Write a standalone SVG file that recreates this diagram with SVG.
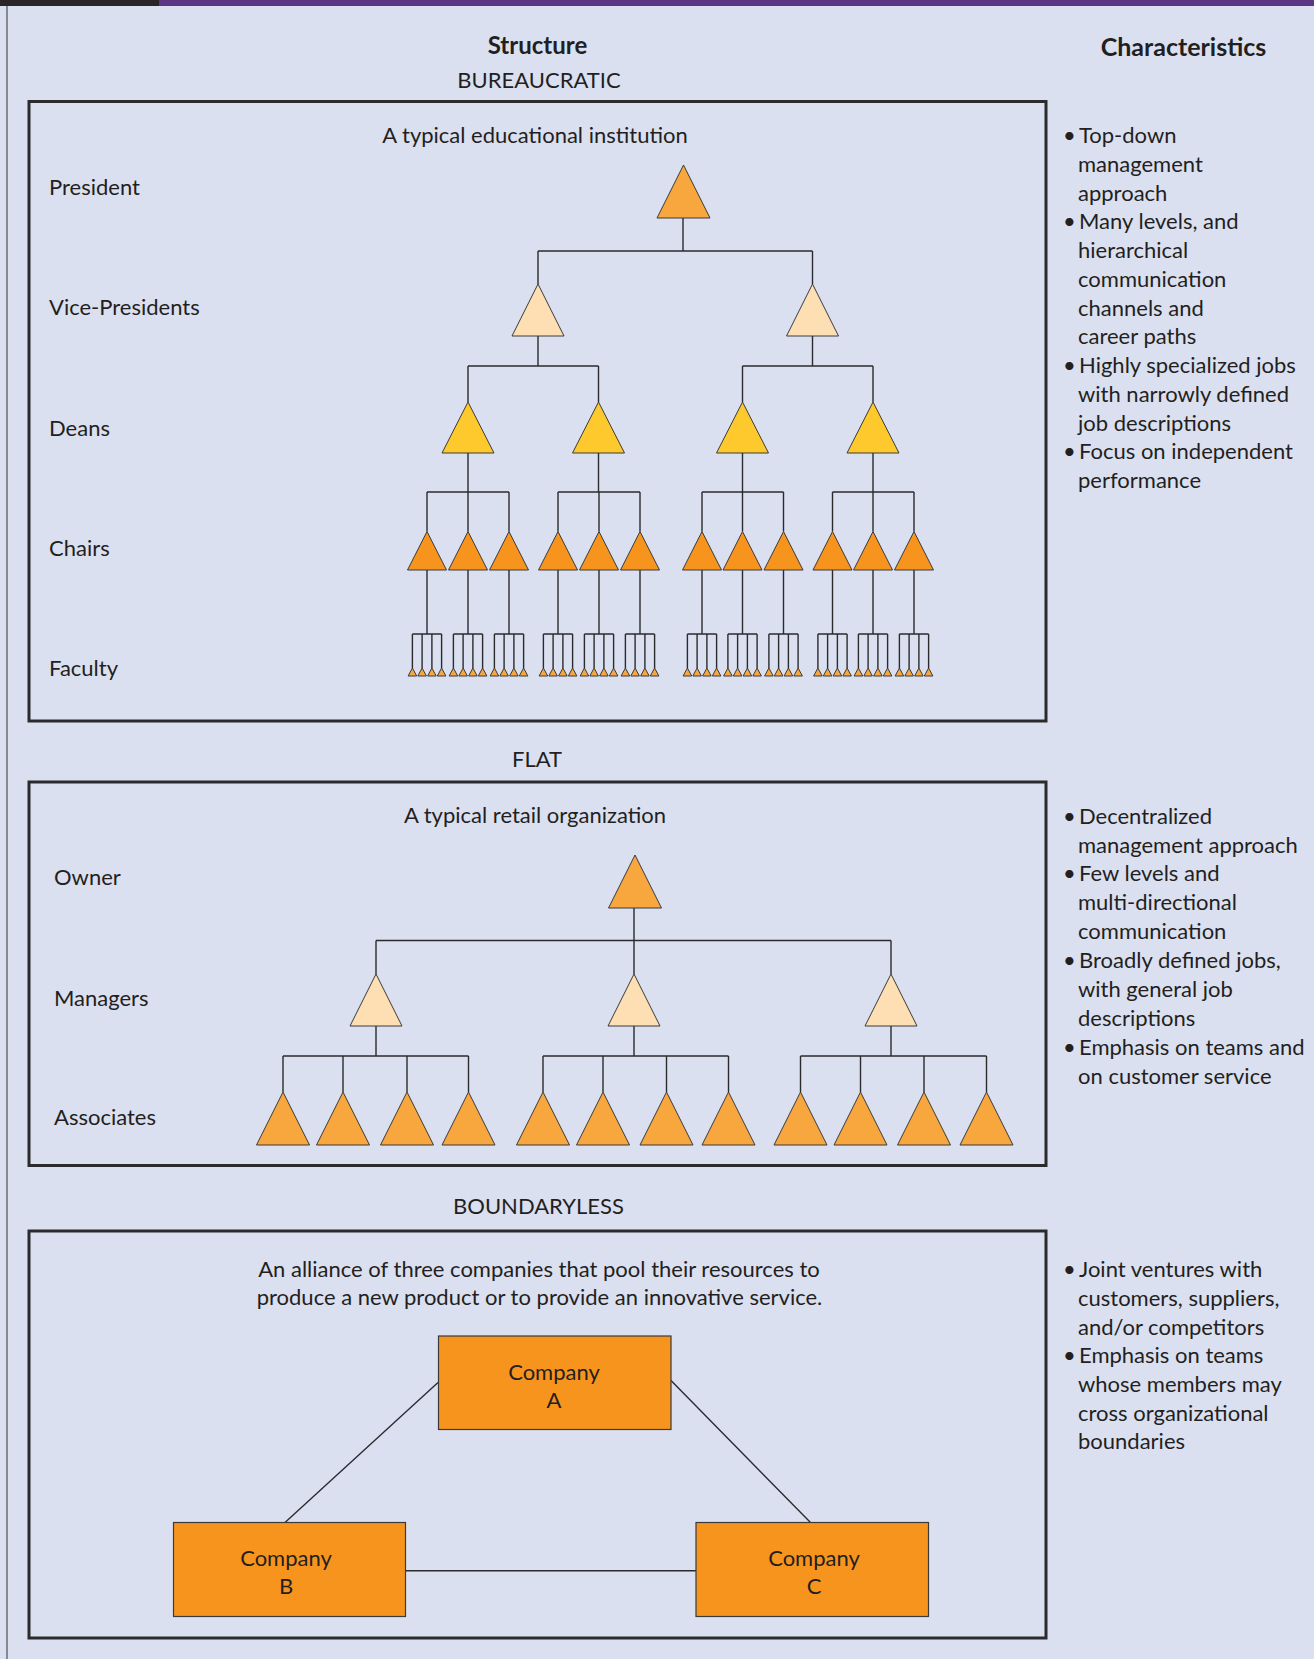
<svg xmlns="http://www.w3.org/2000/svg" xmlns:xlink="http://www.w3.org/1999/xlink" width="1314" height="1659" viewBox="0 0 1314 1659">
<style>
text{font-family:Lato,"Liberation Sans",sans-serif;fill:#231f20;font-size:22px}
.h{font-weight:bold;font-size:24px}
.c{text-anchor:middle}
.box{fill:none;stroke:#2b2b2d;stroke-width:3}
.ln{fill:none;stroke:#2b2b2d;stroke-width:1.4}
.tri{stroke:#3a3a3a;stroke-width:1;stroke-linejoin:miter}
.pres{fill:#f8a63e}
.vp{fill:#fddfb3}
.dean{fill:#fdc92d}
.chair{fill:#f7941e}
.fac{fill:#f8a63e}
.co rect{fill:#f7941e;stroke:#3a3a3a;stroke-width:1.2}
</style>
<defs>
<path id="tL" d="M0,0 L26.5,53 L-26.5,53 Z"/>
<path id="tM" d="M0,0 L26,52 L-26,52 Z"/>
<path id="tD" d="M0,0 L26,51 L-26,51 Z"/>
<path id="tC" d="M0,0 L19.5,38.5 L-19.5,38.5 Z"/>
<g id="f4">
<path d="M-14.6,0 L-10.3,8 L-18.9,8 Z"/>
<path d="M-4.9,0 L-0.6,8 L-9.2,8 Z"/>
<path d="M4.9,0 L9.2,8 L0.6,8 Z"/>
<path d="M14.6,0 L18.9,8 L10.3,8 Z"/>
</g>
</defs>
<rect x="0" y="0" width="1314" height="1659" fill="#dbe0f1"/>
<rect x="0" y="0" width="159" height="6" fill="#2a2628"/>
<rect x="159" y="0" width="1155" height="6" fill="#5c3584"/>
<line x1="7" y1="6" x2="7" y2="1659" stroke="#6b6b70" stroke-width="1.5"/>

<g id="headers">
<text class="h c" x="537.5" y="54">Structure</text>
<text class="h c" x="1183.5" y="56" style="font-size:25px">Characteristics</text>
<text class="c" x="539" y="87.5">BUREAUCRATIC</text>
<text class="c" x="537" y="767">FLAT</text>
<text class="c" x="538.5" y="1214">BOUNDARYLESS</text>
</g>

<g id="frames">
<rect class="box" x="29" y="101.5" width="1017" height="619.5"/>
<rect class="box" x="29" y="782" width="1017" height="383.5"/>
<rect class="box" x="29" y="1231" width="1017" height="407"/>
</g>

<g id="bureaucratic-labels">
<text class="c" x="535" y="143">A typical educational institution</text>
<text x="49" y="195">President</text>
<text x="49" y="315">Vice-Presidents</text>
<text x="49" y="436">Deans</text>
<text x="49" y="555.5">Chairs</text>
<text x="49" y="676">Faculty</text>
</g>

<g id="connectors">
<path class="ln" d="M683,218 V251 M538,251 H812.5 M538,251 V284 M812.5,251 V284
M538,336 V366 M468,366 H598.5 M468,366 V402 M598.5,366 V402
M812.5,336 V366 M742.5,366 H873 M742.5,366 V402 M873,366 V402
M468,453 V492 M427,492 H509 M427,492 V531.5 M468,492 V531.5 M509,492 V531.5
M598.5,453 V492 M558,492 H640 M558,492 V531.5 M599,492 V531.5 M640,492 V531.5
M742.5,453 V492 M702,492 H783.5 M702,492 V531.5 M742.5,492 V531.5 M783.5,492 V531.5
M873,453 V492 M832.5,492 H914 M832.5,492 V531.5 M873,492 V531.5 M914,492 V531.5"/>
<path class="ln" d="M427,570 V634 M412.4,634 H441.6 M412.4,634 V668 M422.1,634 V668 M431.9,634 V668 M441.6,634 V668
M468,570 V634 M453.4,634 H482.6 M453.4,634 V668 M463.1,634 V668 M472.9,634 V668 M482.6,634 V668
M509,570 V634 M494.4,634 H523.6 M494.4,634 V668 M504.1,634 V668 M513.9,634 V668 M523.6,634 V668
M558,570 V634 M543.4,634 H572.6 M543.4,634 V668 M553.1,634 V668 M562.9,634 V668 M572.6,634 V668
M599,570 V634 M584.4,634 H613.6 M584.4,634 V668 M594.1,634 V668 M603.9,634 V668 M613.6,634 V668
M640,570 V634 M625.4,634 H654.6 M625.4,634 V668 M635.1,634 V668 M644.9,634 V668 M654.6,634 V668
M702,570 V634 M687.4,634 H716.6 M687.4,634 V668 M697.1,634 V668 M706.9,634 V668 M716.6,634 V668
M742.5,570 V634 M727.9,634 H757.1 M727.9,634 V668 M737.6,634 V668 M747.4,634 V668 M757.1,634 V668
M783.5,570 V634 M768.9,634 H798.1 M768.9,634 V668 M778.6,634 V668 M788.4,634 V668 M798.1,634 V668
M832.5,570 V634 M817.9,634 H847.1 M817.9,634 V668 M827.6,634 V668 M837.4,634 V668 M847.1,634 V668
M873,570 V634 M858.4,634 H887.6 M858.4,634 V668 M868.1,634 V668 M877.9,634 V668 M887.6,634 V668
M914,570 V634 M899.4,634 H928.6 M899.4,634 V668 M909.1,634 V668 M918.9,634 V668 M928.6,634 V668"/>
<path class="ln" d="M634,907 V940.5 M376,940.5 H891 M376,940.5 V974 M634,940.5 V974 M891,940.5 V974
M376,1026 V1056 M283,1056 H468.5 M283,1056 V1092 M343,1056 V1092 M407,1056 V1092 M468.5,1056 V1092
M634,1026 V1056 M543,1056 H728.5 M543,1056 V1092 M603,1056 V1092 M666.5,1056 V1092 M728.5,1056 V1092
M891,1026 V1056 M800.5,1056 H986.5 M800.5,1056 V1092 M860.5,1056 V1092 M924,1056 V1092 M986.5,1056 V1092"/>
<path class="ln" d="M438,1382.5 L285,1522.5 M671,1380.5 L810.5,1522.5"/>
<path class="ln" d="M405.5,1570.7 H696" stroke-width="2"/>
</g>

<g id="president"><use class="tri pres" href="#tL" x="683.5" y="165"/></g>
<g id="vice-presidents">
<use class="tri vp" href="#tM" x="538" y="284"/>
<use class="tri vp" href="#tM" x="812.5" y="284"/>
</g>
<g id="deans">
<use class="tri dean" href="#tD" x="468" y="402"/>
<use class="tri dean" href="#tD" x="598.5" y="402"/>
<use class="tri dean" href="#tD" x="742.5" y="402"/>
<use class="tri dean" href="#tD" x="873" y="402"/>
</g>
<g id="chairs">
<use class="tri chair" href="#tC" x="427" y="531.5"/>
<use class="tri chair" href="#tC" x="468" y="531.5"/>
<use class="tri chair" href="#tC" x="509" y="531.5"/>
<use class="tri chair" href="#tC" x="558" y="531.5"/>
<use class="tri chair" href="#tC" x="599" y="531.5"/>
<use class="tri chair" href="#tC" x="640" y="531.5"/>
<use class="tri chair" href="#tC" x="702" y="531.5"/>
<use class="tri chair" href="#tC" x="742.5" y="531.5"/>
<use class="tri chair" href="#tC" x="783.5" y="531.5"/>
<use class="tri chair" href="#tC" x="832.5" y="531.5"/>
<use class="tri chair" href="#tC" x="873" y="531.5"/>
<use class="tri chair" href="#tC" x="914" y="531.5"/>
</g>
<g id="faculty">
<use class="tri fac" href="#f4" x="427" y="668"/>
<use class="tri fac" href="#f4" x="468" y="668"/>
<use class="tri fac" href="#f4" x="509" y="668"/>
<use class="tri fac" href="#f4" x="558" y="668"/>
<use class="tri fac" href="#f4" x="599" y="668"/>
<use class="tri fac" href="#f4" x="640" y="668"/>
<use class="tri fac" href="#f4" x="702" y="668"/>
<use class="tri fac" href="#f4" x="742.5" y="668"/>
<use class="tri fac" href="#f4" x="783.5" y="668"/>
<use class="tri fac" href="#f4" x="832.5" y="668"/>
<use class="tri fac" href="#f4" x="873" y="668"/>
<use class="tri fac" href="#f4" x="914" y="668"/>
</g>

<g id="flat-labels">
<text class="c" x="535" y="822.5">A typical retail organization</text>
<text x="54" y="885">Owner</text>
<text x="54" y="1006">Managers</text>
<text x="54" y="1125">Associates</text>
</g>
<g id="owner"><use class="tri pres" href="#tL" x="635" y="855"/></g>
<g id="managers">
<use class="tri vp" href="#tM" x="376" y="974"/>
<use class="tri vp" href="#tM" x="634" y="974"/>
<use class="tri vp" href="#tM" x="891" y="974"/>
</g>
<g id="associates">
<use class="tri pres" href="#tL" x="283" y="1092"/>
<use class="tri pres" href="#tL" x="343" y="1092"/>
<use class="tri pres" href="#tL" x="407" y="1092"/>
<use class="tri pres" href="#tL" x="468.5" y="1092"/>
<use class="tri pres" href="#tL" x="543" y="1092"/>
<use class="tri pres" href="#tL" x="603" y="1092"/>
<use class="tri pres" href="#tL" x="666.5" y="1092"/>
<use class="tri pres" href="#tL" x="728.5" y="1092"/>
<use class="tri pres" href="#tL" x="800.5" y="1092"/>
<use class="tri pres" href="#tL" x="860.5" y="1092"/>
<use class="tri pres" href="#tL" x="924" y="1092"/>
<use class="tri pres" href="#tL" x="986.5" y="1092"/>
</g>

<g id="boundaryless-caption">
<text class="c" x="539" y="1277">An alliance of three companies that pool their resources to</text>
<text class="c" x="539.5" y="1305">produce a new product or to provide an innovative service.</text>
</g>
<g id="company-a" class="co">
<rect x="438.5" y="1336" width="232.5" height="93.5"/>
<text class="c" x="554" y="1380">Company</text>
<text class="c" x="554" y="1408">A</text>
</g>
<g id="company-b" class="co">
<rect x="173.5" y="1522.5" width="232" height="94"/>
<text class="c" x="286" y="1566">Company</text>
<text class="c" x="286" y="1594">B</text>
</g>
<g id="company-c" class="co">
<rect x="696" y="1522.5" width="232.5" height="94"/>
<text class="c" x="814" y="1566">Company</text>
<text class="c" x="814" y="1594">C</text>
</g>

<g id="characteristics-bureaucratic">
<text x="1063" y="143">•</text><text x="1079" y="143">Top-down</text>
<text x="1078" y="172">management</text>
<text x="1078" y="200.5">approach</text>
<text x="1063" y="229">•</text><text x="1079" y="229">Many levels, and</text>
<text x="1078" y="258">hierarchical</text>
<text x="1078" y="287">communication</text>
<text x="1078" y="315.5">channels and</text>
<text x="1078" y="344">career paths</text>
<text x="1063" y="373">•</text><text x="1079" y="373">Highly specialized jobs</text>
<text x="1078" y="402">with narrowly defined</text>
<text x="1078" y="430.5">job descriptions</text>
<text x="1063" y="459">•</text><text x="1079" y="459">Focus on independent</text>
<text x="1078" y="488">performance</text>
</g>
<g id="characteristics-flat">
<text x="1063" y="823.5">•</text><text x="1079" y="823.5">Decentralized</text>
<text x="1078" y="852.5">management approach</text>
<text x="1063" y="881">•</text><text x="1079" y="881">Few levels and</text>
<text x="1078" y="910">multi-directional</text>
<text x="1078" y="939">communication</text>
<text x="1063" y="968">•</text><text x="1079" y="968">Broadly defined jobs,</text>
<text x="1078" y="996.5">with general job</text>
<text x="1078" y="1025.5">descriptions</text>
<text x="1063" y="1054.5">•</text><text x="1079" y="1054.5">Emphasis on teams and</text>
<text x="1078" y="1083.5">on customer service</text>
</g>
<g id="characteristics-boundaryless">
<text x="1063" y="1277">•</text><text x="1079" y="1277">Joint ventures with</text>
<text x="1078" y="1305.5">customers, suppliers,</text>
<text x="1078" y="1334.5">and/or competitors</text>
<text x="1063" y="1363">•</text><text x="1079" y="1363">Emphasis on teams</text>
<text x="1078" y="1392">whose members may</text>
<text x="1078" y="1420.5">cross organizational</text>
<text x="1078" y="1449">boundaries</text>
</g>
</svg>
